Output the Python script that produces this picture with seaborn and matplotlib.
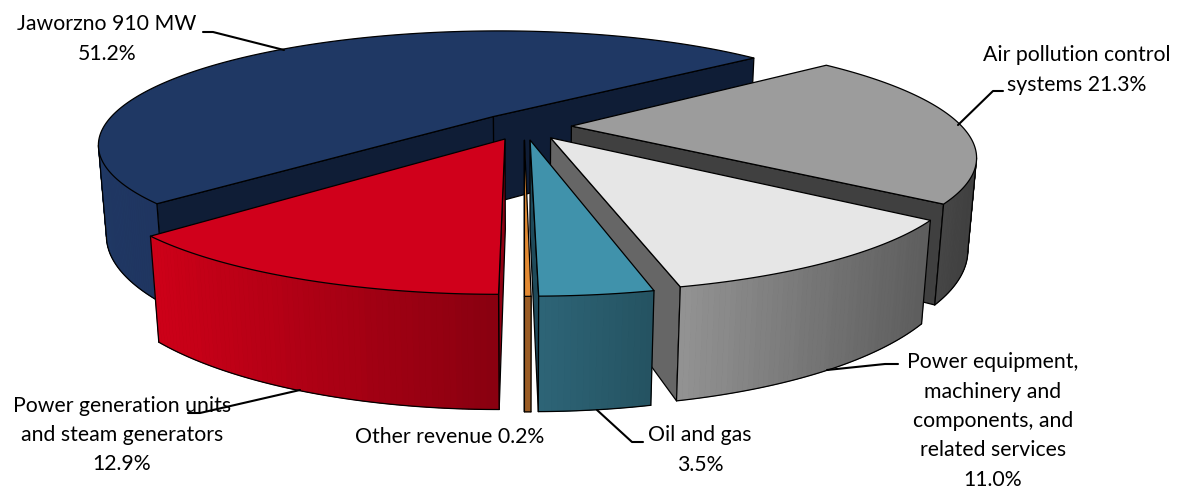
import numpy as np
import matplotlib
matplotlib.use("Agg")
import matplotlib.pyplot as plt
import seaborn as sns

# Revenue split, listed clockwise from the upper-right edge of the largest slice
segments = ["Air pollution control systems", "Power equipment", "Oil and gas",
            "Other revenue", "Power generation units", "Jaworzno 910 MW"]
shares = [21.3, 11.0, 3.5, 0.2, 12.9, 51.2]
top_colors = ["#9C9C9C", "#E6E6E6", "#4092AB", "#E28A33", "#D0001B", "#1F3864"]
wall_colors = ["#404040", "#666666", "#1F4A5A", "#8A5020", "#8F0012", "#0F1D36"]
rim_light = ["#464646", "#929292", "#2D6476", "#9A5C24", "#CC0018", "#1F3864"]
rim_dark = ["#404040", "#5E5E5E", "#255362", "#9A5C24", "#8A0010", "#1F3560"]
draw_order = [5, 0, 1, 4, 2, 3]

label_texts = ["Jaworzno 910 MW\n51.2%", "Air pollution control\nsystems 21.3%",
               "Power equipment,\nmachinery and\ncomponents, and\nrelated services\n11.0%",
               "Power generation units\nand steam generators\n12.9%",
               "Other revenue 0.2%", "Oil and gas\n3.5%"]
label_x = [107, 1077, 993, 122, 450, 700]
label_y = [39, 70, 421, 435, 437, 450]
leaders_x = [[203, 213, 284], [1003, 993, 958], [898, 885, 827], [188, 200, 300], [643, 632, 597]]
leaders_y = [[32, 32, 50], [91, 91, 125], [364, 364, 370], [413, 413, 390], [442, 442, 410]]

# Camera and pie geometry
CX, CY = 524.14, 126.34
SCALE = 390.4
TILT = 0.2832
PERSP = 0.2416
EXPLODE = 0.1212
THICK = 0.2292
SINK = 0.0184
START_DEG = 39.46


def project(X, Y, Z):
    """Perspective projection of pie coordinates; Z=0 top face, Z=1 bottom face."""
    X, Y, Z = np.asarray(X, float), np.asarray(Y, float), np.asarray(Z, float)
    w = 1 + PERSP * Y + SINK * Z
    return CX + SCALE * X / w, CY - SCALE * (TILT * Y - THICK * Z) / w


def faces_viewer(x0, y0, x1, y1, winding):
    """True when a top-face edge has its outward side pointing down the screen."""
    return (x1 - x0) * winding < 0


sns.set_theme(style="white")
plt.rcParams["font.family"] = ["Lato", "DejaVu Sans"]
fig, ax = plt.subplots(figsize=(11.82, 4.88), dpi=100)
ax.set_position([0, 0, 1, 1])
ax.set_xlim(0, 1182)
ax.set_ylim(488, 0)
ax.axis("off")

spans = np.array(shares) / sum(shares) * 360.0
ends = START_DEG - np.cumsum(spans)
begins = ends + spans
OUTLINE = dict(color="black", lw=0.9, solid_joinstyle="round", solid_capstyle="round")

for rank, i in enumerate(draw_order):
    z = 1 + rank
    a0, a1 = np.radians(begins[i]), np.radians(ends[i])
    mid = (a0 + a1) / 2
    ox, oy = EXPLODE * np.cos(mid), EXPLODE * np.sin(mid)
    n = max(8, int(spans[i] * 1.5))
    t = np.linspace(a0, a1, n + 1)
    arc_x, arc_y = ox + np.cos(t), oy + np.sin(t)
    xt, yt = project(arc_x, arc_y, np.zeros_like(t))
    xb, yb = project(arc_x, arc_y, np.ones_like(t))
    ax0, ay0 = project(ox, oy, 0)
    axb, ayb = project(ox, oy, 1)

    # winding of the top face on screen: apex, then along the arc
    px = np.r_[ax0, xt]
    py = np.r_[ay0, yt]
    winding = np.sign(np.sum(px * np.roll(py, -1) - np.roll(px, -1) * py))

    # cut faces on either side of the slice
    edges = [(ax0, ay0, axb, ayb, xt[0], yt[0], xb[0], yb[0]),
             (xt[-1], yt[-1], xb[-1], yb[-1], ax0, ay0, axb, ayb)]
    for ux, uy, ubx, uby, vx, vy, vbx, vby in edges:
        if faces_viewer(ux, uy, vx, vy, winding):
            ax.fill([ux, vx, vbx, ubx], [uy, vy, vby, uby], facecolor=wall_colors[i],
                    edgecolor="black", lw=0.9, zorder=z)

    # outer rim, shaded band by band from light at the left to dark at the right
    visible = [j for j in range(n) if faces_viewer(xt[j], yt[j], xt[j + 1], yt[j + 1], winding)]
    if visible:
        shades = sns.blend_palette([rim_light[i], rim_dark[i]], 32)
        left, right = min(xt[visible]), max(xt[visible])
        first, last = visible[0], visible[-1] + 1
        ax.fill(np.r_[xt[first:last + 1], xb[first:last + 1][::-1]],
                np.r_[yt[first:last + 1], yb[first:last + 1][::-1]],
                facecolor=rim_dark[i], edgecolor="none", zorder=z)
        for j in visible:
            frac = (xt[j] - left) / max(right - left, 1.0)
            c = shades[min(31, int(frac * 32))]
            ax.fill([xt[j], xt[j + 1], xb[j + 1], xb[j]], [yt[j], yt[j + 1], yb[j + 1], yb[j]],
                    facecolor=c, edgecolor=c, lw=0.5, zorder=z)
        ax.plot(xb[first:last + 1], yb[first:last + 1], zorder=z, **OUTLINE)
        ax.plot([xt[first], xb[first]], [yt[first], yb[first]], zorder=z, **OUTLINE)
        ax.plot([xt[last], xb[last]], [yt[last], yb[last]], zorder=z, **OUTLINE)

    # top face
    ax.fill(px, py, facecolor=top_colors[i], edgecolor="black", lw=0.9, zorder=z, joinstyle="round")

for xs, ys in zip(leaders_x, leaders_y):
    ax.plot(xs, ys, color="black", lw=1.5, zorder=20)

for s, x, y in zip(label_texts, label_x, label_y):
    ax.text(x, y, s, ha="center", va="center", fontsize=15.3, color="black",
            linespacing=1.58, zorder=30)

fig.savefig("out.png", dpi=100, facecolor="white")
